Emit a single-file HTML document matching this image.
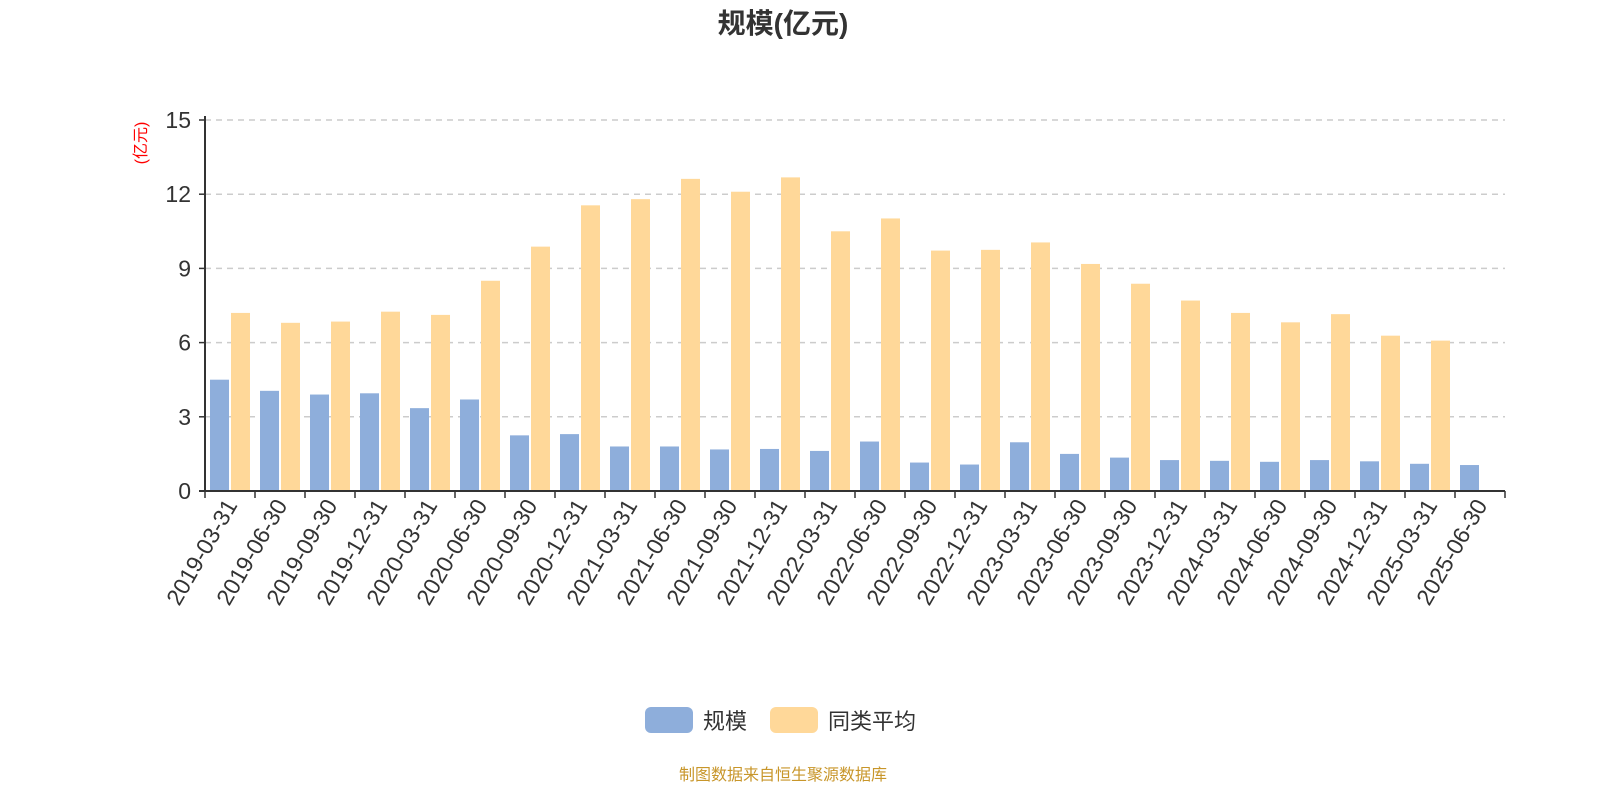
<!DOCTYPE html>
<html><head><meta charset="utf-8"><style>
html,body{margin:0;padding:0;background:#fff;}
svg text{font-family:"Liberation Sans","Noto Sans CJK SC",sans-serif;}
</style></head><body>
<svg id="chart" width="1600" height="800" xmlns="http://www.w3.org/2000/svg">
<text x="783" y="33" text-anchor="middle" font-size="28" font-weight="bold" fill="#333">规模(亿元)</text>
<text transform="translate(146,143) rotate(-90)" text-anchor="middle" font-size="16" fill="#f00">(亿元)</text>
<g id="grid"></g>
<g id="bars"></g>
<g id="axes"></g>
<g>
<g><rect x="645" y="707" width="48" height="26" rx="6" fill="#8eaedb"/><text x="703" y="729" font-size="22" fill="#333">规模</text></g>
<g><rect x="770" y="707" width="48" height="26" rx="6" fill="#ffd899"/><text x="828" y="729" font-size="22" fill="#333">同类平均</text></g>
</g>
<text x="783" y="780" text-anchor="middle" font-size="16" fill="#c8962a">制图数据来自恒生聚源数据库</text>
</svg>
<script>
const categories=["2019-03-31","2019-06-30","2019-09-30","2019-12-31","2020-03-31","2020-06-30","2020-09-30","2020-12-31","2021-03-31","2021-06-30","2021-09-30","2021-12-31","2022-03-31","2022-06-30","2022-09-30","2022-12-31","2023-03-31","2023-06-30","2023-09-30","2023-12-31","2024-03-31","2024-06-30","2024-09-30","2024-12-31","2025-03-31","2025-06-30"];
const scaleValues=[4.5,4.05,3.9,3.95,3.35,3.7,2.25,2.3,1.8,1.8,1.68,1.7,1.62,2.0,1.15,1.07,1.97,1.5,1.35,1.25,1.22,1.18,1.25,1.2,1.1,1.05];
const avgValues=[7.2,6.8,6.85,7.25,7.12,8.5,9.88,11.55,11.8,12.62,12.1,12.68,10.5,11.02,9.72,9.75,10.05,9.18,8.38,7.7,7.2,6.82,7.15,6.28,6.08,null];
const yTicks=[0,3,6,9,12,15];
const NS="http://www.w3.org/2000/svg";
const X0=205,X1=1505,Y0=491,Y1=120,YMAX=15;
const band=(X1-X0)/categories.length;
const y=v=>Y0-(v/YMAX)*(Y0-Y1);
const xc=i=>X0+band*(i+0.5);
function mk(tag,attrs,parent,txt){const e=document.createElementNS(NS,tag);for(const k in attrs)e.setAttribute(k,attrs[k]);if(txt!=null)e.textContent=txt;parent.appendChild(e);return e;}
const grid=document.getElementById('grid'),bars=document.getElementById('bars'),axes=document.getElementById('axes');
yTicks.forEach(t=>{
  if(t>0){const l=mk('line',{x1:X0,x2:X1,y1:y(t),y2:y(t),stroke:'#ccc','stroke-width':1.5,'stroke-dasharray':'6,5'},grid);
  
  }
  const tk=mk('line',{x1:X0-6,x2:X0,y1:y(t),y2:y(t),stroke:'#333','stroke-width':1.5},axes);
  
  
  const tl=mk('text',{x:X0-14,y:y(t)+8,'text-anchor':'end','font-size':23,fill:'#333'},axes,t);
  
  
});
const bw=19,gap=2;
categories.forEach((c,i)=>{
  const cx=xc(i);
  const v1=scaleValues[i];
  if(v1!=null){const r=mk('rect',{x:cx-gap/2-bw,y:y(v1),width:bw,height:Y0-y(v1),fill:'#8eaedb'},bars);
  
  }
  const v2=avgValues[i];
  if(v2!=null){const r=mk('rect',{x:cx+gap/2,y:y(v2),width:bw,height:Y0-y(v2),fill:'#ffd899'},bars);
  
  }
  const lb=mk('text',{transform:`translate(${cx+8},${Y0+14}) rotate(-60)`,'text-anchor':'end','font-size':23,fill:'#333'},axes,c);
  
  
});
for(let i=0;i<=categories.length;i++){
  const tk=mk('line',{x1:X0+band*i,x2:X0+band*i,y1:Y0,y2:Y0+7,stroke:'#333','stroke-width':1.5},axes);
  
  
}
const ya=mk('line',{x1:X0,x2:X0,y1:Y1-4,y2:Y0,stroke:'#333','stroke-width':2},axes);


const xa=mk('line',{x1:X0-6,x2:X1,y1:Y0,y2:Y0,stroke:'#333','stroke-width':2},axes);


</script>
</body></html>
